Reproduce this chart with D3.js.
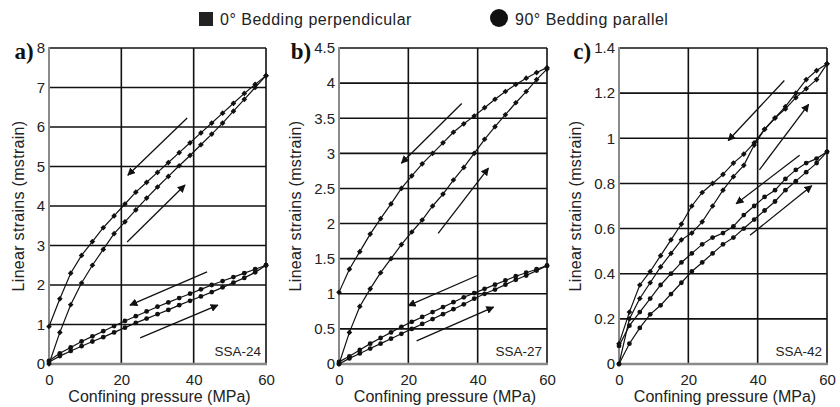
<!DOCTYPE html>
<html>
<head>
<meta charset="utf-8">
<script src="https://cdn.jsdelivr.net/npm/d3@7"></script>
<style>
    body { margin: 0; background: #fff; }
    svg { display: block; }
    text { fill: #222; }
</style>
</head>
<body>
<div id="chart"></div>
<script>
// confining pressure steps (MPa)
const pressure = [0, 3, 6, 9, 12, 15, 18, 21, 24, 27, 30, 33, 36, 39, 42, 45, 48, 51, 54, 57, 60];

// SSA-24
const aPerpLoad   = [0, 0.8, 1.5, 2.05, 2.5, 2.9, 3.3, 3.6, 3.9, 4.2, 4.48, 4.75, 5.02, 5.28, 5.55, 5.82, 6.1, 6.4, 6.7, 7.0, 7.3];
const aPerpUnload = [0.95, 1.65, 2.3, 2.75, 3.1, 3.45, 3.75, 4.05, 4.35, 4.6, 4.85, 5.1, 5.35, 5.6, 5.85, 6.1, 6.35, 6.6, 6.85, 7.08, 7.3];
const aParLoad    = [0.05, 0.2, 0.33, 0.45, 0.57, 0.68, 0.8, 0.92, 1.04, 1.15, 1.26, 1.37, 1.49, 1.6, 1.71, 1.82, 1.94, 2.06, 2.18, 2.32, 2.5];
const aParUnload  = [0.08, 0.27, 0.42, 0.57, 0.7, 0.83, 0.96, 1.09, 1.21, 1.33, 1.45, 1.56, 1.67, 1.78, 1.89, 2.0, 2.1, 2.2, 2.3, 2.4, 2.5];

// SSA-27
const bPerpLoad   = [0, 0.45, 0.82, 1.07, 1.3, 1.5, 1.7, 1.88, 2.05, 2.25, 2.42, 2.62, 2.8, 3.0, 3.2, 3.38, 3.55, 3.72, 3.88, 4.05, 4.2];
const bPerpUnload = [1.02, 1.35, 1.6, 1.85, 2.07, 2.28, 2.5, 2.68, 2.85, 3.0, 3.15, 3.3, 3.42, 3.53, 3.65, 3.77, 3.88, 3.98, 4.07, 4.15, 4.22];
const bParLoad    = [0, 0.08, 0.15, 0.22, 0.29, 0.36, 0.43, 0.5, 0.57, 0.64, 0.71, 0.78, 0.85, 0.93, 1.0, 1.06, 1.13, 1.2, 1.26, 1.33, 1.4];
const bParUnload  = [0.03, 0.11, 0.2, 0.29, 0.37, 0.45, 0.53, 0.6, 0.67, 0.74, 0.81, 0.88, 0.95, 1.01, 1.07, 1.13, 1.19, 1.25, 1.3, 1.35, 1.4];

// SSA-42
const cPerpLoad   = [0, 0.2, 0.29, 0.36, 0.43, 0.49, 0.55, 0.58, 0.63, 0.7, 0.77, 0.83, 0.88, 0.97, 1.04, 1.09, 1.13, 1.18, 1.22, 1.26, 1.33];
const cPerpUnload = [0.09, 0.23, 0.35, 0.41, 0.48, 0.55, 0.62, 0.7, 0.76, 0.8, 0.84, 0.89, 0.93, 0.98, 1.04, 1.09, 1.14, 1.2, 1.26, 1.3, 1.33];
const cParLoad    = [0, 0.09, 0.16, 0.22, 0.26, 0.31, 0.36, 0.41, 0.45, 0.49, 0.53, 0.56, 0.6, 0.64, 0.68, 0.72, 0.77, 0.81, 0.85, 0.89, 0.94];
const cParUnload  = [0.08, 0.17, 0.23, 0.29, 0.35, 0.4, 0.45, 0.49, 0.53, 0.56, 0.58, 0.61, 0.66, 0.7, 0.74, 0.77, 0.82, 0.86, 0.89, 0.91, 0.94];

// y ticks per panel
const aTicks = [0, 1, 2, 3, 4, 5, 6, 7, 8];
const bTicks = [0, 0.5, 1, 1.5, 2, 2.5, 3, 3.5, 4, 4.5];
const cTicks = [0, 0.2, 0.4, 0.6, 0.8, 1, 1.2, 1.4];
const xTicks = [0, 20, 40, 60];

// arrows: [fromP, fromStrain, toP, toStrain]
const aArrows = [[38.2, 6.23, 21.8, 4.78], [21.6, 3.09, 37.6, 4.53], [43.7, 2.33, 22.4, 1.49], [25.2, 0.66, 46.7, 1.49]];
const bArrows = [[35.4, 3.71, 18.0, 2.86], [28.6, 1.86, 43.1, 2.79], [39.9, 1.26, 20.0, 0.83], [22.4, 0.33, 44.6, 0.81]];
const cArrows = [[47.7, 1.256, 31.5, 0.99], [40.5, 0.86, 54.7, 1.15], [52.1, 0.925, 33.8, 0.71], [37.8, 0.57, 55.6, 0.79]];

const legendLabels = ['0° Bedding perpendicular', '90° Bedding parallel'];

const panels = [
    { tag: 'a)', sample: 'SSA-24', left: 49, right: 266, ticks: aTicks, series: [aPerpLoad, aPerpUnload, aParLoad, aParUnload], arrows: aArrows },
    { tag: 'b)', sample: 'SSA-27', left: 339, right: 547, ticks: bTicks, series: [bPerpLoad, bPerpUnload, bParLoad, bParUnload], arrows: bArrows },
    { tag: 'c)', sample: 'SSA-42', left: 619, right: 827, ticks: cTicks, series: [cPerpLoad, cPerpUnload, cParLoad, cParUnload], arrows: cArrows }
];

const width = 840, height = 407;
const plotTop = 48, plotBottom = 364;
const sans = '"Liberation Sans", Arial, sans-serif';

const svg = d3.select('#chart').append('svg')
    .attr('width', width)
    .attr('height', height)
    .style('font-family', sans);

svg.append('defs').append('marker')
    .attr('id', 'head')
    .attr('viewBox', '0 0 10 10')
    .attr('refX', 9).attr('refY', 5)
    .attr('markerWidth', 8).attr('markerHeight', 8)
    .attr('markerUnits', 'userSpaceOnUse')
    .attr('orient', 'auto')
    .append('path')
    .attr('d', 'M0,0L10,5L0,10z')
    .attr('fill', '#111');

// legend
const legend = svg.append('g');
legend.append('rect').attr('x', 199).attr('y', 12).attr('width', 14).attr('height', 14).attr('fill', '#222');
legend.append('text').attr('x', 220).attr('y', 25).attr('font-size', 16).attr('letter-spacing', 0.5).text(legendLabels[0]);
legend.append('circle').attr('cx', 499).attr('cy', 18).attr('r', 9).attr('fill', '#111');
legend.append('text').attr('x', 515).attr('y', 25).attr('font-size', 16).attr('letter-spacing', 0.5).text(legendLabels[1]);

const square = d3.symbol().type(d3.symbolSquare).size(16);
const circle = d3.symbol().type(d3.symbolCircle).size(18);

panels.forEach(p => {
    const ymax = p.ticks[p.ticks.length - 1];
    const x = d3.scaleLinear().domain([0, 60]).range([p.left, p.right]);
    const y = d3.scaleLinear().domain([0, ymax]).range([plotBottom, plotTop]);
    const g = svg.append('g');

    // grid
    g.append('g').selectAll('line').data(p.ticks.slice(1)).enter().append('line')
        .attr('x1', p.left).attr('x2', p.right)
        .attr('y1', d => y(d)).attr('y2', d => y(d))
        .attr('stroke', '#111').attr('stroke-width', 1.6);
    g.append('g').selectAll('line').data(xTicks.slice(1)).enter().append('line')
        .attr('x1', d => x(d)).attr('x2', d => x(d))
        .attr('y1', plotTop).attr('y2', plotBottom)
        .attr('stroke', '#111').attr('stroke-width', 1.6);

    // gray left / bottom axis lines
    g.append('line').attr('x1', p.left).attr('x2', p.left).attr('y1', plotTop - 1).attr('y2', plotBottom + 1)
        .attr('stroke', '#8a8a8a').attr('stroke-width', 2);
    g.append('line').attr('x1', p.left).attr('x2', p.right + 1).attr('y1', plotBottom).attr('y2', plotBottom)
        .attr('stroke', '#8a8a8a').attr('stroke-width', 2.5);

    // axes (labels only)
    const yAxis = d3.axisLeft(y).tickValues(p.ticks).tickSize(0).tickPadding(4).tickFormat(d3.format('~g'));
    const ay = g.append('g').attr('transform', `translate(${p.left},0)`).call(yAxis);
    const xAxis = d3.axisBottom(x).tickValues(xTicks).tickSize(0).tickPadding(10);
    const ax = g.append('g').attr('transform', `translate(0,${plotBottom})`).call(xAxis);
    [ay, ax].forEach(a => {
        a.select('.domain').remove();
        a.selectAll('text').attr('font-size', 15).attr('fill', '#222')
            .attr('font-family', sans);
    });

    // left edge of the widest y tick label
    const tickLeft = p.left + d3.min(ay.selectAll('text').nodes(), n => n.getBBox().x);
    const topLabel = ay.selectAll('text').nodes().pop();
    const topLeft = p.left + topLabel.getBBox().x;

    // axis titles
    g.append('text')
        .attr('x', (p.left + p.right) / 2 + 2).attr('y', 402)
        .attr('text-anchor', 'middle').attr('font-size', 16)
        .text('Confining pressure (MPa)');
    g.append('text')
        .attr('transform', `translate(${tickLeft - 13},${(plotTop + plotBottom) / 2}) rotate(-90)`)
        .attr('text-anchor', 'middle').attr('font-size', 16).attr('letter-spacing', 0.3)
        .text('Linear strains (mstrain)');

    // panel tag
    g.append('text')
        .attr('x', topLeft - 3).attr('y', 59)
        .attr('text-anchor', 'end')
        .style('font-family', '"Liberation Serif", "Times New Roman", serif')
        .attr('font-weight', 'bold').attr('font-size', 23)
        .style('fill', '#111')
        .text(p.tag);

    // sample label
    g.append('text')
        .attr('x', p.right - 5).attr('y', 356)
        .attr('text-anchor', 'end').attr('font-size', 13.5)
        .text(p.sample);

    // curves
    const line = d3.line().x((d, i) => x(pressure[i])).y(d => y(d));
    p.series.forEach((s, k) => {
        g.append('path').datum(s)
            .attr('d', line)
            .attr('fill', 'none').attr('stroke', '#111').attr('stroke-width', 1.2);
        g.append('g').selectAll('path').data(s).enter().append('path')
            .attr('transform', (d, i) => `translate(${x(pressure[i])},${y(d)}) rotate(${k < 2 ? 45 : 0})`)
            .attr('d', k < 2 ? square : circle)
            .attr('fill', '#111');
    });

    // arrows
    g.append('g').selectAll('line').data(p.arrows).enter().append('line')
        .attr('x1', d => x(d[0])).attr('y1', d => y(d[1]))
        .attr('x2', d => x(d[2])).attr('y2', d => y(d[3]))
        .attr('stroke', '#111').attr('stroke-width', 1.3)
        .attr('marker-end', 'url(#head)');
});
</script>
</body>
</html>
